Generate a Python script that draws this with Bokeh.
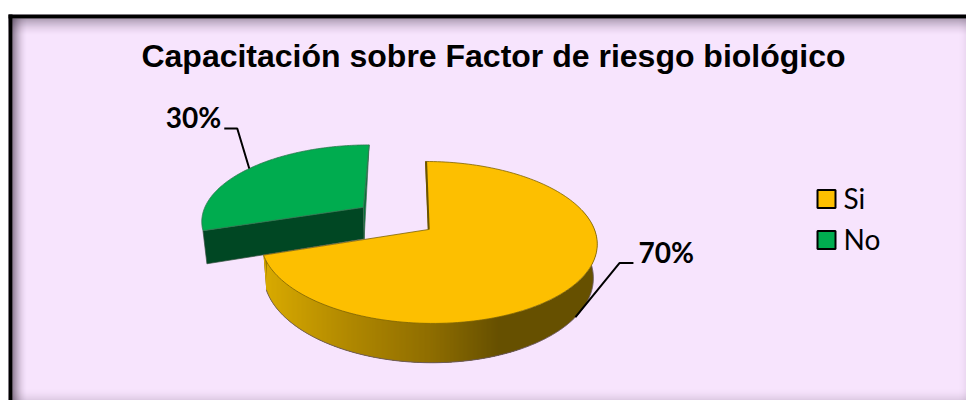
import numpy as np
from bokeh.plotting import figure
from bokeh.models import Range1d
from bokeh.core.properties import value
from bokeh.embed import file_html
from bokeh.resources import INLINE

title = "Capacitación sobre Factor de riesgo biológico"
categories = ["Si", "No"]
values = [70, 30]
labels = ["70%", "30%"]
colors = ["#fdbf00", "#00ac4f"]
exploded = [0.0, 0.5]

# projective pie model (screen px)
CX, CY, RX, RY, PERSP, SKEW, DEPTH = 428.0, 229.0, 166.0, 78.9, 0.16, -3.5, 33.0


def proj(u, v, bottom=False):
    u, v = np.asarray(u, float), np.asarray(v, float)
    w = 1 + PERSP * v
    X = CX + (RX * u + SKEW * v) / w
    Y = CY - RY * v / w
    if bottom:
        X = X - 0.02 * (X - 400)
        Y = Y + DEPTH / w
    return X, Y


total = sum(values)
fr = np.cumsum([0] + values) / total * 2 * np.pi
slices = []
for i in range(len(values)):
    a0, a1 = fr[i], fr[i + 1]
    mid = (a0 + a1) / 2
    slices.append(dict(a0=a0, a1=a1, mid=mid,
                       ox=exploded[i] * np.sin(mid), oy=exploded[i] * np.cos(mid)))


def rim(s, t0=None, t1=None, n=160, bottom=False):
    t = np.linspace(s["a0"] if t0 is None else t0, s["a1"] if t1 is None else t1, n)
    return proj(s["ox"] + np.sin(t), s["oy"] + np.cos(t), bottom)


p = figure(width=966, height=400, x_range=Range1d(0, 966), y_range=Range1d(400, 0),
           output_backend="svg", toolbar_location=None, min_border=0,
           x_axis_type=None, y_axis_type=None, outline_line_color=None,
           background_fill_color="white", border_fill_color="white")
p.grid.visible = False

# background and frame
p.quad(left=[8], right=[966], top=[14], bottom=[400], fill_color="#f7e4fd", line_color=None)
ys = np.arange(18, 36)
p.quad(left=8, right=966, top=ys, bottom=ys + 1, fill_color="#3a2a40", line_color=None,
       fill_alpha=0.42 * (1 - (ys - 18) / 18) ** 2)
xs = np.arange(12, 27)
p.quad(left=xs, right=xs + 1, top=18, bottom=400, fill_color="#3a2a40", line_color=None,
       fill_alpha=0.62 * (1 - (xs - 12) / 15) ** 2)
yb = np.arange(386, 400)
p.quad(left=8, right=966, top=yb, bottom=yb + 1, fill_color="#3a2a40", line_color=None,
       fill_alpha=0.16 * ((yb - 386) / 14) ** 2)
xr = np.arange(956, 966)
p.quad(left=xr, right=xr + 1, top=18, bottom=400, fill_color="#3a2a40", line_color=None,
       fill_alpha=0.08 * ((xr - 956) / 10) ** 2)
p.quad(left=[8, 8], right=[966, 12], top=[14, 14], bottom=[18, 400],
       fill_color="black", line_color=None)

# green slice (exploded, behind)
g = slices[1]
ax, ay = proj(g["ox"], g["oy"])
bax, bay = proj(g["ox"], g["oy"], True)
rx_, ry_ = rim(g)
brx, bry = rim(g, bottom=True)
p.patch([rx_[0], ax, bax, brx[0]], [ry_[0], ay, bay, bry[0]], fill_color="#004723",
        line_color="#33503f", line_width=0.7)
p.patch([rx_[-1], ax, bax], [ry_[-1], ay, bay], fill_color="#07703a", line_color="#3d6b50", line_width=0.7)
p.patch(list(rx_) + [ax], list(ry_) + [ay], fill_color=colors[1], line_color="#2f7a50", line_width=0.8)

# yellow slice outer wall: one dark base, then overlapping columns carrying the shading
y_ = slices[0]
stops_x = [262, 350, 430, 500, 600]
stops_r = [218, 176, 143, 102, 102]
stops_g = [171, 136, 110, 80, 80]
t = np.linspace(np.radians(75), y_["a1"], 400)
tx, ty = proj(y_["ox"] + np.sin(t), y_["oy"] + np.cos(t))
bx, by = proj(y_["ox"] + np.sin(t), y_["oy"] + np.cos(t), True)
split = 520
p.patch(list(tx) + list(bx[::-1]), list(ty) + list(by[::-1]), fill_color="#665000", line_color=None)
front = t > np.radians(110)
cols = np.arange(int(np.ceil(bx.min())), split + 1)
top_y = np.interp(cols, tx[front][::-1], ty[front][::-1])
bot_y = np.interp(cols, bx[front][::-1], by[front][::-1])
sx, sy, sc = [], [], []
for i in range(len(cols) - 3):
    sx.append([float(cols[i]), float(cols[i + 3]), float(cols[i + 3]), float(cols[i])])
    sy.append([float(top_y[i]), float(top_y[i + 3]), float(bot_y[i + 3]), float(bot_y[i])])
    m = cols[i] + 0.5
    sc.append("#%02x%02x00" % (int(np.interp(m, stops_x, stops_r)), int(np.interp(m, stops_x, stops_g))))
# the sliver left of the first column takes the lightest shade
p.patch(list(tx[t > y_["a1"] - 0.06]) + list(bx[t > y_["a1"] - 0.06][::-1]),
        list(ty[t > y_["a1"] - 0.06]) + list(by[t > y_["a1"] - 0.06][::-1]), fill_color="#daab00", line_color=None)
p.patches(sx, sy, fill_color=sc, line_color=None)
p.line(bx, by, line_color="#6b5a60", line_width=1)

# yellow top
rx2, ry2 = rim(y_)
ax2, ay2 = proj(y_["ox"], y_["oy"])
p.patch(list(rx2) + [ax2], list(ry2) + [ay2], fill_color=colors[0], line_color="#7d6300", line_width=0.8)
p.line([rx2[0] + 0.6, ax2 + 0.2], [ry2[0], ay2], line_color="#6b5400", line_width=2)

# leader lines and labels
elbows = [(44, -54, 14), (-12, -40, -13)]
label_dx = [5, -3]
label_dy = [-11, -12]
aligns = ["left", "right"]
for i, s in enumerate(slices):
    px, py = proj(s["ox"] + np.sin(s["mid"]), s["oy"] + np.cos(s["mid"]), i == 0)
    ex, ey, hl = elbows[i]
    p.line([px, px + ex, px + ex + hl], [py, py + ey, py + ey], line_color="black", line_width=2)
    p.text([px + ex + hl + label_dx[i]], [py + ey + label_dy[i]], text=[labels[i]], text_font=value("Lato"),
           text_font_style="bold", text_font_size="28px", text_color="black",
           text_align=aligns[i], text_baseline="middle")

# legend
leg_y = [198.5, 239.5]
for c, col, ly in zip(categories, colors, leg_y):
    p.quad(left=[817], right=[835], top=[ly - 9], bottom=[ly + 9], fill_color=col,
           line_color="black", line_width=2)
    p.text([843], [ly - 1], text=[c], text_font=value("Lato"), text_font_size="28px",
           text_color="black", text_align="left", text_baseline="middle")

# title
p.text([493], [55], text=[title], text_font=value("Liberation Sans"), text_font_style="bold",
       text_font_size="32px", text_color="black", text_align="center", text_baseline="middle")

open("out.html", "w").write(file_html(p, INLINE))
